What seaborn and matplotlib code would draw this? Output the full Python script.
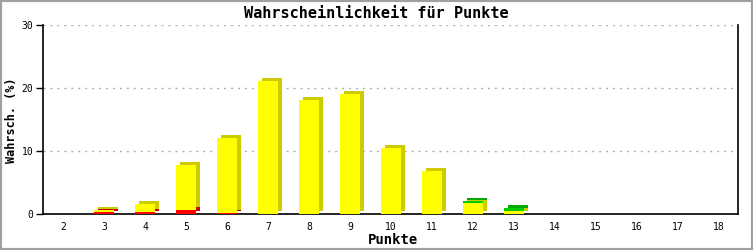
import matplotlib
matplotlib.use("Agg")
import matplotlib.pyplot as plt
import matplotlib.transforms as mtransforms
from matplotlib.patches import Rectangle
import seaborn as sns
import pandas as pd

# ---- data ----
punkte = ["2", "3", "4", "5", "6", "7", "8", "9", "10", "11", "12", "13", "14", "15", "16", "17", "18"]
rot    = [0.0, 0.3, 0.3, 0.6, 0.1, 0.0, 0.0, 0.0, 0.0, 0.0, 0.0, 0.0, 0.0, 0.0, 0.0, 0.0, 0.0]
gelb   = [0.0, 0.4, 1.3, 7.2, 12.0, 21.1, 18.1, 19.0, 10.5, 6.9, 1.8, 0.5, 0.0, 0.0, 0.0, 0.0, 0.0]
gruen  = [0.0, 0.0, 0.0, 0.0, 0.0, 0.0, 0.0, 0.0, 0.0, 0.0, 0.3, 0.5, 0.0, 0.0, 0.0, 0.0, 0.0]
y_ticks = [0, 10, 20, 30]

df = pd.DataFrame({"Punkte": punkte, "rot": rot, "gelb": gelb, "gruen": gruen})
df["lvl1"] = df["rot"]
df["lvl2"] = df["rot"] + df["gelb"]
df["lvl3"] = df["lvl2"] + df["gruen"]

sns.set_style("white")
plt.rcParams["font.family"] = ["DejaVu Sans Mono", "DejaVu Sans"]
plt.rcParams["text.color"] = "black"
plt.rcParams["axes.labelcolor"] = "black"
plt.rcParams["xtick.color"] = "black"
plt.rcParams["ytick.color"] = "black"

fig = plt.figure(figsize=(7.53, 2.5), dpi=100)
ax = fig.add_axes([43 / 753, 36 / 250, (738 - 43) / 753, (214 - 25) / 250])

shadow = mtransforms.offset_copy(ax.transData, fig=fig, x=4, y=3, units="dots")

levels = [("lvl3", "#00cc00", "#00a800"),
          ("lvl2", "#ffff00", "#cccc00"),
          ("lvl1", "#ff0000", "#c80000")]
bw = 0.48
# depth (shadow) first
for col, front, dark in levels:
    n0 = len(ax.patches)
    sns.barplot(data=df, x="Punkte", y=col, color=dark, saturation=1, width=bw,
                ax=ax, linewidth=0, errorbar=None)
    for p in ax.patches[n0:]:
        p.set_transform(shadow)
        p.set_zorder(2)
# front faces
for col, front, dark in levels:
    n0 = len(ax.patches)
    sns.barplot(data=df, x="Punkte", y=col, color=front, saturation=1, width=bw,
                ax=ax, linewidth=0, errorbar=None)
    for p in ax.patches[n0:]:
        p.set_zorder(3)

ax.set_xlim(-0.49, 16.46)
ax.set_ylim(0, 30)
ax.set_yticks(y_ticks)
ax.set_yticklabels([str(t) for t in y_ticks], fontsize=7)
ax.tick_params(axis="x", length=0, labelsize=7, pad=6)
ax.tick_params(axis="y", length=5, width=1, direction="out", left=True, pad=2)
ax.yaxis.grid(True, linestyle=(0, (1.5, 3.5)), color="#b0b0b0", linewidth=1)
ax.set_axisbelow(True)
for s in ["left", "bottom", "right"]:
    ax.spines[s].set_visible(True)
    ax.spines[s].set_color("black")
    ax.spines[s].set_linewidth(1.2)
ax.spines["top"].set_visible(False)

ax.set_xlabel("Punkte", fontsize=10, fontweight="bold", va="center")
ax.xaxis.set_label_coords((393 - 43) / 695, -(240 - 214) / 189)
ax.set_ylabel("Wahrsch. (%)", fontsize=8.5, fontweight="bold", va="center")
ax.yaxis.set_label_coords(-(43 - 12) / 695, (214 - 120) / 189)
fig.text(0.5, 1 - 13 / 250, "Wahrscheinlichkeit für Punkte",
         ha="center", va="center", fontsize=11, fontweight="bold")

fig.patches.append(Rectangle((0, 0), 1, 1, transform=fig.transFigure, fill=False,
                             edgecolor="#a0a0a0", linewidth=3))

fig.savefig("out.png", dpi=100, facecolor="white")
